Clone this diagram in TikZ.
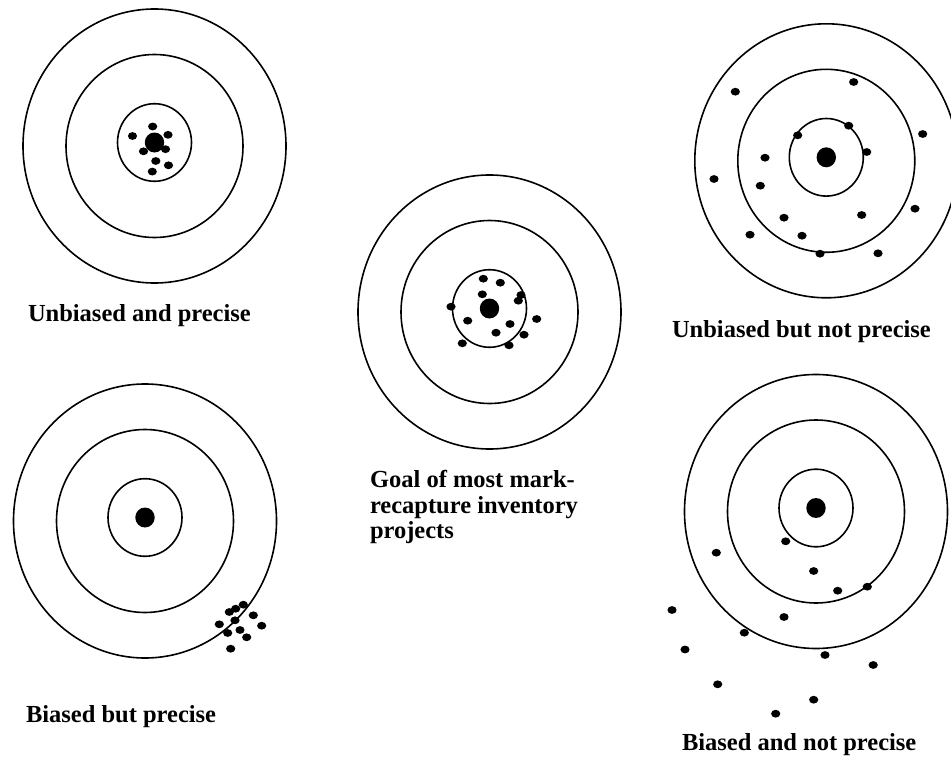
\documentclass[tikz,border=0pt]{standalone}
\usepackage{fontspec}
\setmainfont{Liberation Serif}
\tikzset{
  ring/.style={draw=black, line width=1.6},
  bull/.style={fill=black},
  shot/.style={fill=black},
  lbl/.style={inner sep=0pt, outer sep=0pt, anchor=base west, font=\bfseries\fontsize{24.5}{26}\selectfont}
}
\newcommand\mytarget[2]{%
  \draw[ring] (#1,#2) ellipse[x radius=131.5, y radius=137];
  \draw[ring] (#1,#2) ellipse[x radius=88.5, y radius=91.5];
  \draw[ring] (#1,#2-3.5) ellipse[x radius=37, y radius=38.8];
  \fill[bull] (#1,#2-3.5) ellipse[x radius=9.7, y radius=10];
}
\newcommand\myshots[1]{%
  \foreach \px/\py in {#1} {\fill[shot] (\px,\py) ellipse[x radius=4.6, y radius=3.9];}
}
\begin{document}
\begin{tikzpicture}[x=1pt,y=-1pt]
\useasboundingbox (0,0) rectangle (951,760);
\clip (0,0) rectangle (951,760);
% Target 1: unbiased and precise
\mytarget{154.5}{146}
\myshots{152.7/126.5,132.5/136,168/134.8,143.5/151.3,165.5/149.2,155.8/161,168.5/165.3,152.3/171.6}
\node[lbl] (t1) at (28,321) {Unbiased and precise};
% Target 2: goal
\mytarget{489.5}{312}
\myshots{483.3/278.7,500.3/282.7,482.3/294.3,521/295,518.3/300.7,451/306.7,536.7/319,467.7/320.7,510/324,496/332.7,524/334.7,462.3/343.3,509/345.3}
\node[lbl] (t2a) at (370,487) {Goal of most mark-};
\node[lbl] (t2b) at (370,513) {recapture inventory};
\node[lbl] (t2c) at (370,538) {projects};
% Target 3: unbiased but not precise
\mytarget{826.3}{160.8}
\myshots{735.3/91.7,853.7/82,848.7/125.7,797.7/135.3,922.7/134,866.7/152,765/157.7,714/179,760.3/185.7,784/217.7,861.7/215,915/208.7,750/234.7,802/235.7,820/253.7,878/253.3}
\node[lbl] (t3) at (672,337) {Unbiased but not precise};
% Target 4: biased but precise
\mytarget{145}{521}
\myshots{243.3/604.7,235.7/608.7,229.3/612,253.3/615.3,235/620.3,219.3/624.3,261.7/625.7,240/630,227.7/633,246.7/637.3,230.7/648.7}
\node[lbl] (t4) at (26,722) {Biased but precise};
% Target 5: biased and not precise
\mytarget{816}{511.5}
\myshots{785.7/541.3,716.3/552.7,813.7/571,837.7/590.7,867.3/586.7,672/610,784/617,744.3/632.7,685/649.5,825/655,873.2/665,717.7/684.3,813.7/699.7,775.7/713.7}
\node[lbl] (t5) at (682,750) {Biased and not precise};
\end{tikzpicture}
\end{document}
